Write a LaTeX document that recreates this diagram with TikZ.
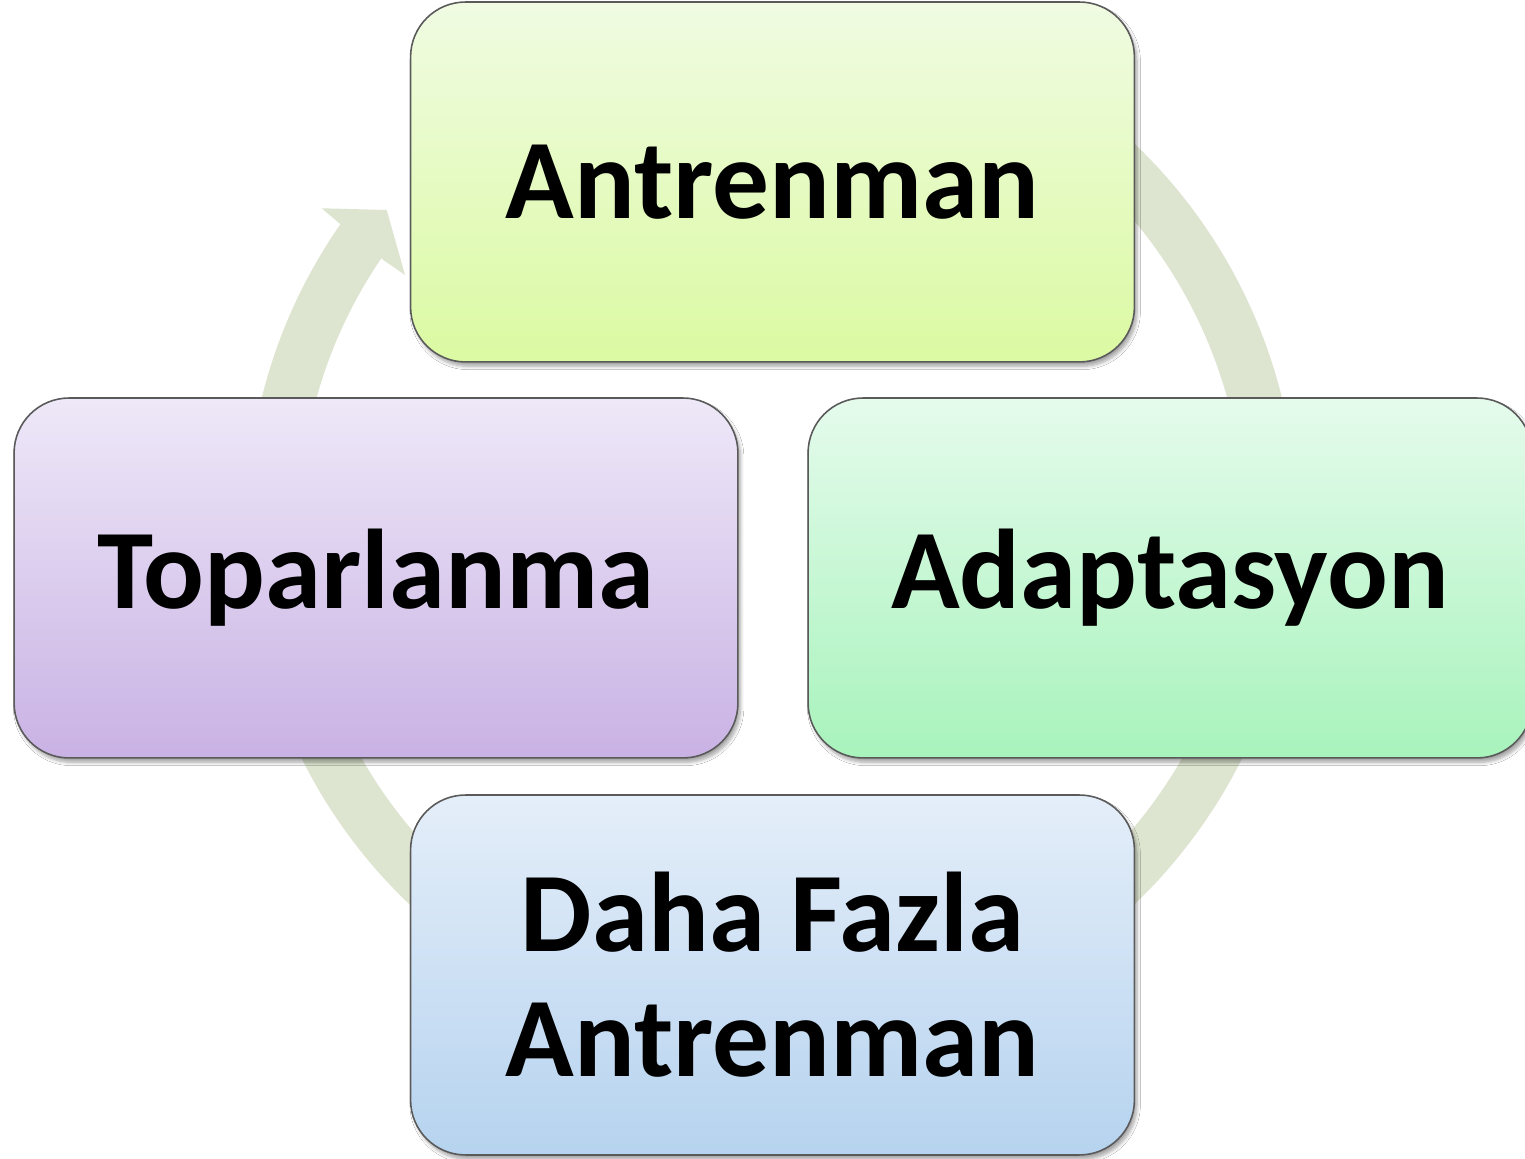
\documentclass[tikz,border=0pt]{standalone}
\usepackage{fontspec}
\setmainfont{Carlito}
\usetikzlibrary{shadows.blur}
\definecolor{ringc}{RGB}{221,228,207}
\definecolor{boxline}{RGB}{90,90,90}
\definecolor{gTop}{RGB}{240,251,226}
\definecolor{gBot}{RGB}{219,250,162}
\definecolor{pTop}{RGB}{238,232,248}
\definecolor{pBot}{RGB}{201,178,228}
\definecolor{mTop}{RGB}{229,251,236}
\definecolor{mBot}{RGB}{168,243,188}
\definecolor{bTop}{RGB}{228,238,249}
\definecolor{bBot}{RGB}{182,211,239}
\begin{document}
\begin{tikzpicture}[x=0.02cm,y=0.02cm,
  box/.style={draw=boxline, line width=0.9pt, rounded corners=1.1cm,
    minimum width=14.48cm, minimum height=7.2cm, inner sep=0pt, align=center,
    font=\fontsize{64.5}{71}\selectfont\bfseries,
    blur shadow={shadow xshift=1.5pt, shadow yshift=-2.5pt, shadow blur steps=6, shadow opacity=35}},
  ring/.style={draw=ringc, line width=1.06cm}]
\useasboundingbox (0,0) rectangle (1525,1159);
\clip (0,0) rectangle (1525,1159);
\fill[white] (0,0) rectangle (1525,1159);
% cycle arrow
\coordinate (c) at (772,635);
\draw[ring] ([shift={(144.5:499)}]c) arc[start angle=144.5, end angle=420, radius=9.98cm];
\fill[ringc] (343.3,932.3) -- (321.7,950.7) -- (386.7,949) -- (405,884) -- (383.3,899) -- cycle;
% boxes
\node[box, top color=gTop, bottom color=gBot] (train) at (772.5,977) {Antrenman};
\node[box, top color=mTop, bottom color=mBot] (adapt) at (1170,581) {Adaptasyon};
\node[box, top color=bTop, bottom color=bBot] (more) at (772.5,184) {Daha Fazla\\Antrenman};
\node[box, top color=pTop, bottom color=pBot] (recov) at (376,581) {Toparlanma};
\end{tikzpicture}
\end{document}
